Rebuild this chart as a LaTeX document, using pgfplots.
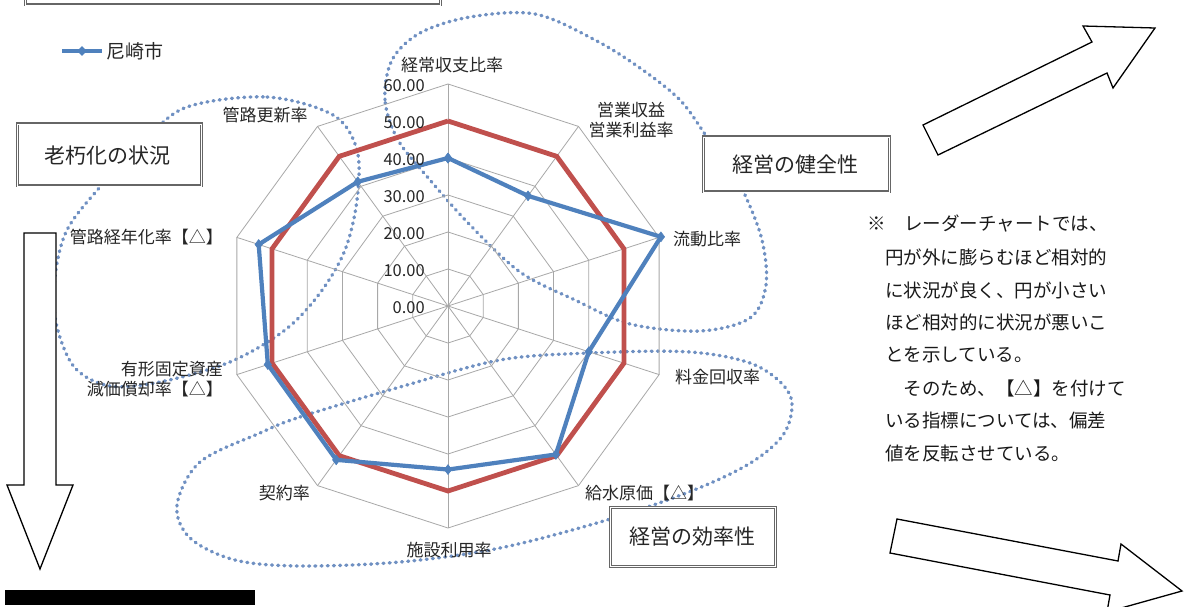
\documentclass[border=0pt]{standalone}
\usepackage{pgfplots}
\pgfplotsset{compat=1.18}
\usepgfplotslibrary{polar}
\usetikzlibrary{shapes.geometric}
\usepackage{fontspec}
\setmainfont{Noto Sans CJK JP}
\definecolor{sblue}{HTML}{4F81BD}
\definecolor{sred}{HTML}{C0504D}
\definecolor{dotc}{HTML}{6F90C2}
\definecolor{gridc}{HTML}{A8A8A8}
\newcommand{\lab}{\fontsize{17}{20}\selectfont}
\newcommand{\tck}{\fontsize{16.5}{19}\selectfont}
\newcommand{\bx}{\fontsize{21}{25}\selectfont}
\newcommand{\note}{\fontsize{18.5}{21}\selectfont}
\tikzset{
  dotted loop/.style={dotc, line width=3.4pt, line cap=round, dash pattern=on 0.9pt off 5.3pt},
  harrow/.style={draw=black, line width=1.3pt, fill=white, line join=miter},
  tlab/.style={anchor=east, inner sep=0pt, text=black!85, font=\tck, xshift=-23pt, yshift=-2pt}
}
\newcommand{\dbox}[2]{%
  \filldraw[fill=white, draw=black!60, line width=3pt] #1 rectangle #2;
  \draw[white, line width=0.9pt] #1 rectangle #2;}
\begin{document}
\begin{tikzpicture}
\clip (0,0) rectangle (1184pt,-607pt);
\fill[white] (0,0) rectangle (1184pt,-607pt);
% dotted loops (behind the chart)
\begin{scope}[x=1pt,y=-1pt]
\draw[dotted loop] plot[smooth cycle, tension=0.55] coordinates {
 (398,140) (385,100) (392,60) (420,33) (470,17) (535,14) (595,40) (640,68) (680,100)
 (707,137) (728,165) (745,195) (762,240) (766,285) (750,318) (700,331) (630,324)
 (575,300) (520,272) (470,225) (430,180)};
\draw[dotted loop] plot[smooth cycle, tension=0.55] coordinates {
 (187,107) (267,97) (333,115) (357,150) (357,200) (345,250) (320,293) (285,330)
 (230,362) (160,382) (110,386) (75,368) (57,327) (54,285) (66,232) (100,187) (145,140)};
\draw[dotted loop] plot[smooth cycle, tension=0.55] coordinates {
 (260,433) (300,417) (400,387) (500,360) (590,353) (690,352) (755,365) (790,395)
 (785,432) (752,462) (694,490) (607,520) (500,548) (400,562) (300,566) (235,560)
 (190,538) (177,505) (200,462)};
\end{scope}
\begin{polaraxis}[at={(448pt,-306pt)}, anchor=origin, scale only axis,
  width=444pt, height=444pt, xmin=0, xmax=360, ymin=0, ymax=60,
  hide axis, clip=false]
\pgfplotsinvokeforeach{10,20,30,40,50,60}{
 \addplot[gridc, line width=0.8pt] coordinates {(90,#1) (54,#1) (18,#1) (342,#1) (306,#1) (270,#1) (234,#1) (198,#1) (162,#1) (126,#1) (90,#1)};
}
\pgfplotsinvokeforeach{90,54,18,342,306,270,234,198,162,126}{
 \addplot[gridc, line width=0.8pt] coordinates {(#1,0) (#1,60)};
}
% average (red)
\addplot[sred, line width=4.8pt, line join=miter, miter limit=3] coordinates {
 (90,50) (54,50) (18,50) (342,50) (306,50) (270,50) (234,50) (198,50) (162,50) (126,50) (90,50)};
% Amagasaki (blue)
\addplot[sblue, line width=4.2pt, line join=round, mark=diamond*, mark size=5pt,
  mark options={fill=sblue, draw=sblue, line width=0.5pt}] coordinates {
 (90,40) (54,36.8) (18,60.5) (342,40) (306,49.6) (270,44.2) (234,51.4) (198,51.2) (162,53.8) (126,41.5) (90,40)};
% radial tick labels
\node[tlab] at (axis cs:90,0) {0.00};
\node[tlab] at (axis cs:90,10) {10.00};
\node[tlab] at (axis cs:90,20) {20.00};
\node[tlab] at (axis cs:90,30) {30.00};
\node[tlab] at (axis cs:90,40) {40.00};
\node[tlab] at (axis cs:90,50) {50.00};
\node[tlab] at (axis cs:90,60) {60.00};
\end{polaraxis}
\begin{scope}[x=1pt,y=-1pt]
% category labels
\begin{scope}[every node/.style={inner sep=0pt, text=black!85, font=\lab}]
\node at (452,65) {経常収支比率};
\node[align=center] at (631,120) {営業収益\\営業利益率};
\node[anchor=west] at (673,239) {流動比率};
\node[anchor=west] at (675,377) {料金回収率};
\node[anchor=west] at (585,493) {給水原価【△】};
\node at (449,550) {施設利用率};
\node[anchor=east] at (310,493) {契約率};
\node[anchor=east, align=right] at (223,379) {有形固定資産\\減価償却率【△】};
\node[anchor=east] at (223,237) {管路経年化率【△】};
\node at (265,115) {管路更新率};
\end{scope}
% legend
\draw[sblue, line width=3.6pt] (62,51) -- (102,51);
\node[diamond, fill=sblue, inner sep=0pt, minimum size=10pt] at (82,51) {};
\node[anchor=west, inner sep=0pt, text=black!85, font=\fontsize{19}{22}\selectfont] at (106,51) {尼崎市};
% boxes
\dbox{(25,-10)}{(440,5)}
\dbox{(17,124)}{(201,186)}
\node[font=\bx, text=black!85] at (108,156) {老朽化の状況};
\dbox{(703,137)}{(889,192)}
\node[font=\bx, text=black!85] at (795,165) {経営の健全性};
\dbox{(610,507)}{(775,566)}
\node[font=\bx, text=black!85] at (692,537) {経営の効率性};
% arrows
\draw[harrow] (923,125) -- (1092,42) -- (1083,26) -- (1155,28) -- (1113,88) -- (1107,73) -- (938,155) -- cycle;
\draw[harrow] (24,233) -- (56,233) -- (56,485) -- (73,485) -- (40,569) -- (7,485) -- (24,485) -- cycle;
\draw[harrow] (897,519) -- (1118,561) -- (1121,544) -- (1182,591) -- (1107,612) -- (1110,595) -- (890,553) -- cycle;
\fill[black] (5,590) rectangle (255,605);
% note text
\begin{scope}[every node/.style={anchor=west, inner sep=0pt, text=black!90, font=\note}]
\node at (867,224) {※　レーダーチャートでは、};
\node at (885,257) {円が外に膨らむほど相対的};
\node at (885,290) {に状況が良く、円が小さい};
\node at (885,322) {ほど相対的に状況が悪いこ};
\node at (885,355) {とを示している。};
\node at (885,388) {　そのため、【△】を付けて};
\node at (885,420) {いる指標については、偏差};
\node at (885,453) {値を反転させている。};
\end{scope}
\end{scope}
\end{tikzpicture}
\end{document}
